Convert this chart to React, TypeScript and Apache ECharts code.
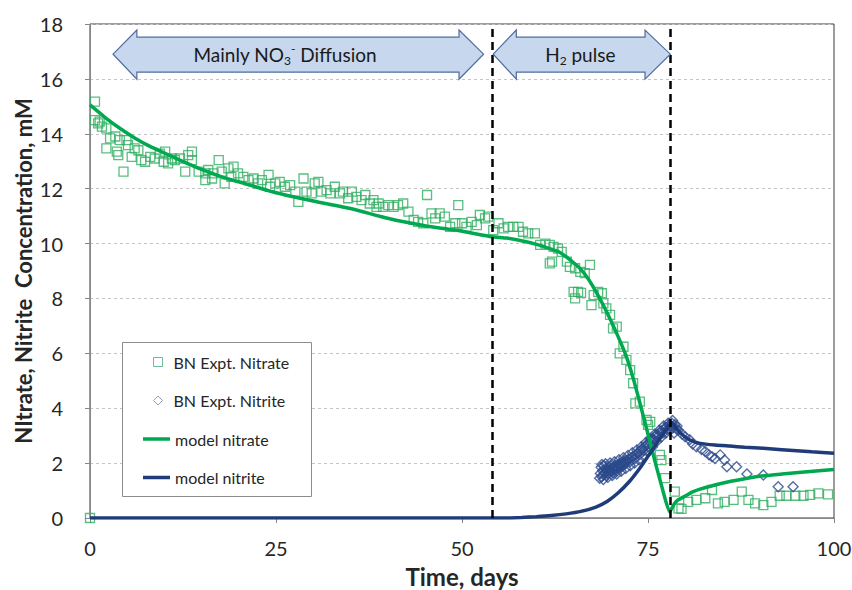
import React, { useEffect, useRef } from "react";
import * as echarts from "echarts";

// ---------- data ----------
const X_TICKS = [0, 25, 50, 75, 100];
const Y_TICKS = [0, 2, 4, 6, 8, 10, 12, 14, 16, 18];
const PHASE_BOUNDARIES = [54, 78];

const SERIES_NAMES = ["BN Expt. Nitrate", "BN Expt. Nitrite", "model nitrate", "model nitrite"];

const NITRATE_EXPT: [number, number][] = [
  [0, 0],
  [0.67, 15.17], [0.67, 14.5], [1.1, 14.38], [1.3, 14.44], [1.6, 14.26], [2.2, 14.2], [2.7, 13.83],
  [3.4, 13.9], [4.0, 13.77], [2.2, 13.47], [3.6, 13.35], [3.8, 13.22], [4.5, 12.62], [4.9, 13.77],
  [5.1, 13.59], [5.6, 13.16], [6.0, 13.47], [6.5, 13.4], [6.9, 13.04], [7.4, 12.98], [8.1, 13.16],
  [8.7, 13.1], [9.4, 13.28], [10.1, 13.35], [9.9, 12.98], [10.5, 12.92], [11.0, 13.1], [11.4, 13.04],
  [12.1, 13.1], [12.8, 12.62], [13.2, 13.22], [13.7, 13.35], [13.7, 13.04], [14.6, 12.62], [15.5, 12.56],
  [15.9, 12.68], [16.6, 12.56], [17.3, 13.04], [17.7, 12.62], [18.1, 12.19], [18.6, 12.74], [19.0, 12.43],
  [15.5, 12.31], [16.4, 12.37],
  [19.3, 12.8], [19.9, 12.56], [20.6, 12.43], [21.3, 12.31], [22.0, 12.37], [22.6, 12.19], [23.1, 12.31],
  [24.0, 12.5], [24.2, 12.07], [24.9, 12.19], [25.5, 12.25], [26.2, 12.07], [26.9, 12.13], [27.6, 11.89],
  [28.0, 11.52], [28.7, 12.37], [29.1, 11.89], [29.8, 11.83], [30.2, 12.19], [30.7, 12.25], [31.1, 11.89],
  [31.8, 11.95], [32.3, 11.83], [32.9, 12.07], [33.6, 11.83], [34.0, 11.89], [34.7, 11.65], [35.2, 11.89],
  [35.8, 11.7], [36.5, 11.58], [37.0, 11.77], [37.6, 11.46], [38.1, 11.58], [38.5, 11.34],
  [38.8, 11.46], [39.4, 11.34], [40.1, 11.4], [40.8, 11.34], [41.4, 11.4], [42.1, 11.46], [42.8, 11.16],
  [43.5, 10.86], [44.1, 10.79], [44.8, 10.74], [45.3, 11.77], [45.9, 11.1], [46.4, 10.92], [47.0, 11.1],
  [47.7, 10.98], [48.4, 10.61], [49.1, 10.74], [49.5, 11.4], [50.0, 10.74], [50.6, 10.61], [51.3, 10.79],
  [52.0, 10.67], [52.4, 11.04], [53.1, 10.92], [53.5, 10.98], [54.2, 10.49], [54.9, 10.74], [55.6, 10.55],
  [56.2, 10.61], [56.9, 10.61], [57.6, 10.61],
  [58.2, 10.43], [58.9, 10.37], [59.8, 10.37], [60.5, 9.95], [61.2, 10.0], [61.8, 9.95], [62.3, 9.88],
  [62.9, 9.82], [63.4, 9.7], [61.8, 9.28], [62.1, 9.34], [64.1, 9.34], [64.5, 9.15], [65.2, 9.1],
  [65.9, 8.97], [66.5, 8.92], [67.2, 9.22], [65.0, 8.24], [65.2, 8.0], [65.6, 8.24], [66.0, 8.2],
  [67.4, 7.76], [67.7, 8.12], [68.3, 8.24], [68.8, 8.19], [69.0, 7.82], [69.4, 7.64], [69.9, 7.4],
  [70.3, 6.91], [70.8, 6.97], [71.2, 6.0], [71.7, 6.24], [72.1, 5.76], [72.6, 5.39], [73.0, 4.91],
  [73.3, 4.18], [73.9, 4.24], [74.8, 3.57], [75.0, 3.39], [75.3, 3.5], [76.6, 2.3], [76.8, 2.11],
  [77.3, 1.45], [78.6, 0.96], [79.1, 0.35],
  [79.5, 0.33], [80.4, 0.59], [81.5, 0.66], [82.7, 0.72], [83.6, 1.02], [84.4, 0.53], [85.3, 0.59],
  [86.5, 0.66], [87.6, 0.96], [88.5, 0.66], [89.4, 0.53], [90.5, 0.47], [91.6, 0.59], [92.7, 0.81],
  [93.6, 0.81], [94.8, 0.81], [95.9, 0.81], [96.8, 0.84], [97.9, 0.9], [99.2, 0.86],
];

const NITRITE_EXPT: [number, number][] = [
  [68.6, 1.62], [68.7, 1.85], [68.8, 1.5], [68.9, 1.72], [69.0, 1.58], [69.1, 1.9], [69.2, 1.66],
  [69.3, 1.78], [69.4, 1.55], [69.5, 1.7], [69.6, 1.84], [69.7, 1.62], [69.8, 1.75], [69.9, 1.68],
  [70.0, 1.9], [70.1, 1.72], [70.2, 1.8], [70.3, 1.65], [70.4, 1.85], [70.5, 1.76], [70.6, 1.92],
  [70.7, 1.8], [70.8, 1.7], [70.9, 1.88], [71.0, 1.95], [71.1, 1.82], [71.2, 1.9], [71.3, 2.0],
  [71.4, 1.86], [71.5, 1.97], [71.6, 2.05], [71.7, 1.92], [71.8, 2.02], [71.9, 2.1], [72.0, 1.98],
  [72.2, 2.08], [72.4, 2.15], [72.6, 2.05], [72.8, 2.2], [73.0, 2.25], [73.2, 2.15], [73.4, 2.3],
  [73.6, 2.38], [73.8, 2.3], [74.0, 2.45], [74.2, 2.52], [74.4, 2.45], [74.6, 2.6], [74.8, 2.68],
  [75.0, 2.6], [75.2, 2.75], [75.4, 2.82], [75.6, 2.9], [75.8, 2.85], [76.0, 2.98], [76.2, 3.05],
  [76.4, 3.0], [76.6, 3.12], [76.8, 3.18], [77.0, 3.1], [77.2, 3.25], [77.4, 3.3], [77.6, 3.22],
  [77.8, 3.38], [78.0, 3.35], [78.2, 3.45], [78.4, 3.3], [78.6, 3.4], [78.8, 3.25],
  [68.5, 1.45], [68.8, 1.95], [69.0, 1.4], [69.3, 1.98], [69.6, 1.48], [69.9, 2.0], [70.2, 1.55],
  [70.5, 2.05], [70.8, 1.6], [71.1, 2.12], [71.4, 1.7], [71.7, 2.2], [72.0, 1.8], [72.3, 2.28],
  [72.6, 1.9], [72.9, 2.38], [73.2, 2.0], [73.5, 2.48], [73.8, 2.12], [74.1, 2.6], [74.4, 2.25],
  [74.7, 2.75], [75.0, 2.4], [75.3, 2.9], [75.6, 2.6], [75.9, 3.05], [76.2, 2.8], [76.5, 3.2],
  [76.8, 2.95], [77.1, 3.35], [77.4, 3.1], [77.7, 3.45], [78.0, 3.2], [78.3, 3.55], [78.5, 3.1],
  [78.9, 3.35],
  [79.1, 3.2], [79.6, 3.05], [80.0, 2.96], [80.6, 2.85], [81.0, 2.7], [81.5, 2.6], [82.2, 2.5],
  [82.7, 2.42], [83.2, 2.3], [83.6, 2.23], [84.0, 2.17], [84.7, 2.3], [85.3, 2.11], [85.6, 1.87],
  [86.9, 1.87], [88.3, 1.6], [90.5, 1.57], [92.5, 1.14], [94.5, 1.14],
];

const MODEL_NITRATE: [number, number][] = [
  [0, 15.05], [2, 14.6], [4, 14.2], [6, 13.85], [8, 13.55], [10, 13.3], [12, 13.05], [15, 12.7],
  [18, 12.4], [20, 12.25], [25, 11.85], [30, 11.55], [35, 11.28], [40, 10.92], [45, 10.65],
  [50, 10.45], [54, 10.25], [56, 10.2], [58, 10.1], [60, 9.97], [62, 9.8], [63, 9.7], [64, 9.52],
  [65, 9.3], [66, 9.05], [67, 8.7], [68, 8.25], [69, 7.75], [70, 7.2], [71, 6.6], [72, 5.95],
  [73, 5.1], [74, 4.1], [75, 3.05], [76, 2.0], [77, 1.0], [77.9, 0.22], [78.5, 0.5], [79, 0.65],
  [80, 0.8], [81, 0.95], [82, 1.05], [84, 1.2], [86, 1.33], [88, 1.43], [90, 1.52], [93, 1.6],
  [96, 1.68], [100, 1.77],
];

const MODEL_NITRITE: [number, number][] = [
  [0, 0], [56, 0], [58, 0.02], [60, 0.05], [62, 0.09], [64, 0.15], [66, 0.24], [68, 0.4],
  [69.5, 0.6], [71, 0.92], [72.5, 1.33], [74, 1.85], [75.5, 2.45], [77, 3.05], [78.2, 3.48],
  [79, 3.2], [80, 2.95], [81, 2.8], [82, 2.72], [84, 2.66], [86, 2.62], [88, 2.58], [90.5, 2.54],
  [93, 2.49], [95, 2.45], [97, 2.41], [100, 2.36],
];

// ---------- styles ----------
const FONT = "Lato, 'Open Sans', sans-serif";
const C_NITRATE_PT = "#2FAE60";
const C_NITRATE_LINE = "#00A94F";
const C_NITRITE_PT = "#2C4A8C";
const C_NITRITE_LINE = "#1F3B7A";
const TXT = "#262626";

// arrow annotation geometry in data units
const ARROWS = [
  { x: [3.1, 6.3, 49.6, 52.9], textX: 26.2, rich: "{n|Mainly NO}{sub|3}{sup|-}{n| Diffusion}" },
  { x: [54.2, 57.3, 74.6, 78.0], textX: 65.9, rich: "{n|H}{sub|2}{n| pulse}" },
];
const ARROW_Y = { headTop: 17.78, bodyTop: 17.52, mid: 16.9, bodyBottom: 16.25, headBottom: 15.99 };

export default function App() {
  const ref = useRef<HTMLDivElement>(null);
  useEffect(() => {
    document.body.style.margin = "0";
    const chart = echarts.init(ref.current!, null, { renderer: "svg" });
    const option: any = {
      animation: false,
      backgroundColor: "#fff",
      textStyle: { fontFamily: FONT },
      grid: {
        left: 90, right: 18, top: 24, bottom: 72,
        containLabel: false, outerBoundsMode: "none",
        show: true, borderColor: "#3a3a3a", borderWidth: 1, backgroundColor: "transparent",
      },
      xAxis: {
        type: "value", min: X_TICKS[0], max: X_TICKS[X_TICKS.length - 1], interval: 25,
        name: "Time, days", nameLocation: "middle", nameGap: 46, nameMoveOverlap: false,
        nameTextStyle: { fontSize: 24, fontWeight: "bold", color: TXT, fontFamily: FONT },
        axisLine: { lineStyle: { color: "#868686", width: 1 } },
        axisTick: { show: true, length: 5, lineStyle: { color: "#868686" } },
        axisLabel: { fontSize: 20, color: TXT, margin: 20, fontFamily: FONT },
        splitLine: { show: false },
      },
      yAxis: {
        type: "value", min: Y_TICKS[0], max: Y_TICKS[Y_TICKS.length - 1], interval: 2,
        name: "NItrate, Nitrite  Concentration, mM", nameLocation: "middle", nameGap: 56, nameMoveOverlap: false,
        nameTextStyle: { fontSize: 22, fontWeight: "bold", color: TXT, fontFamily: FONT },
        axisLine: { show: true, lineStyle: { color: "#868686", width: 1 } },
        axisTick: { show: true, length: 5, lineStyle: { color: "#868686" } },
        axisLabel: { fontSize: 20, color: TXT, margin: 27, fontFamily: FONT },
        splitLine: { show: true, lineStyle: { color: "#C4C4C4", width: 1, type: [3, 3] } },
      },
      legend: [
        {
          orient: "vertical", left: 153, top: 352, padding: 0, itemGap: 18.5,
          itemWidth: 9, itemHeight: 9, z: 6,
          textStyle: { fontSize: 16, color: TXT, fontFamily: FONT, lineHeight: 20, padding: [0, 0, 0, 6] },
          data: [
            { name: SERIES_NAMES[0], icon: "rect", itemStyle: { color: "transparent", borderColor: "#4FA88A", borderWidth: 1 } },
            { name: SERIES_NAMES[1], icon: "diamond", itemStyle: { color: "transparent", borderColor: "#7C86A6", borderWidth: 1 } },
          ],
        },
        {
          orient: "vertical", left: 143, top: 429, padding: 0, itemGap: 18.5,
          itemWidth: 27, itemHeight: 3.5, z: 6,
          textStyle: { fontSize: 16, color: TXT, fontFamily: FONT, lineHeight: 20, padding: [0, 0, 0, 0] },
          data: [
            { name: SERIES_NAMES[2], icon: "rect", itemStyle: { color: C_NITRATE_LINE, borderWidth: 0 } },
            { name: SERIES_NAMES[3], icon: "rect", itemStyle: { color: C_NITRITE_LINE, borderWidth: 0 } },
          ],
        },
      ],
      series: [
        {
          name: SERIES_NAMES[0], type: "scatter", data: NITRATE_EXPT, symbol: "rect", symbolSize: 9,
          itemStyle: { color: "transparent", borderColor: C_NITRATE_PT, borderWidth: 1.3 }, z: 2,
        },
        {
          name: SERIES_NAMES[1], type: "scatter", data: NITRITE_EXPT, symbol: "diamond", symbolSize: 10,
          itemStyle: { color: "transparent", borderColor: C_NITRITE_PT, borderWidth: 1.4 }, z: 2,
        },
        {
          name: SERIES_NAMES[2], type: "line", data: MODEL_NITRATE, showSymbol: false, symbol: "none",
          smooth: 0.15, color: C_NITRATE_LINE, lineStyle: { color: C_NITRATE_LINE, width: 3.5 }, z: 3,
          markLine: {
            silent: true, symbol: ["none", "none"], label: { show: false }, z: 4,
            lineStyle: { color: "#000", width: 2.5, type: [8, 5] },
            emphasis: { disabled: true },
            data: PHASE_BOUNDARIES.map((v) => ({ xAxis: v })),
          },
        },
        {
          name: SERIES_NAMES[3], type: "line", data: MODEL_NITRITE, showSymbol: false, symbol: "none",
          smooth: 0.2, color: C_NITRITE_LINE, lineStyle: { color: C_NITRITE_LINE, width: 3.5 }, z: 3,
        },
      ],
    };
    chart.setOption(option);

    const px = (x: number, y: number) =>
      chart.convertToPixel({ xAxisIndex: 0, yAxisIndex: 0 }, [x, y]) as number[];

    const elements: any[] = [];
    ARROWS.forEach((a) => {
      const [x0, x1, x2, x3] = a.x;
      const pts = [
        px(x0, ARROW_Y.mid), px(x1, ARROW_Y.headTop), px(x1, ARROW_Y.bodyTop), px(x2, ARROW_Y.bodyTop),
        px(x2, ARROW_Y.headTop), px(x3, ARROW_Y.mid), px(x2, ARROW_Y.headBottom), px(x2, ARROW_Y.bodyBottom),
        px(x1, ARROW_Y.bodyBottom), px(x1, ARROW_Y.headBottom),
      ];
      elements.push({
        type: "polygon", z: 10, silent: true,
        shape: { points: pts },
        style: { fill: "#C6D7EE", stroke: "#4E6C9E", lineWidth: 1.2 },
      });
      const c = px(a.textX, ARROW_Y.mid);
      elements.push({
        type: "text", z: 11, silent: true, x: c[0], y: c[1],
        style: {
          text: a.rich, align: "center", verticalAlign: "middle",
          fontSize: 19, fontFamily: FONT, fill: "#1a1a1a",
          rich: {
            n: { fontSize: 19, fontFamily: FONT, fill: "#1a1a1a", lineHeight: 24, verticalAlign: "middle" },
            sub: { fontSize: 12, fontFamily: FONT, fill: "#1a1a1a", lineHeight: 12, verticalAlign: "bottom" },
            sup: { fontSize: 12, fontFamily: FONT, fill: "#1a1a1a", lineHeight: 12, verticalAlign: "top" },
          },
        },
      });
    });
    // legend frame (white box over grid lines)
    elements.push({
      type: "rect", z: 3, silent: true,
      shape: { x: 122.5, y: 342.5, width: 189, height: 154 },
      style: { fill: "#fff", stroke: "#8C8C8C", lineWidth: 1 },
    });
    chart.setOption({ graphic: { elements } });

    return () => chart.dispose();
  }, []);
  return <div ref={ref} style={{ width: 852, height: 590 }} />;
}
